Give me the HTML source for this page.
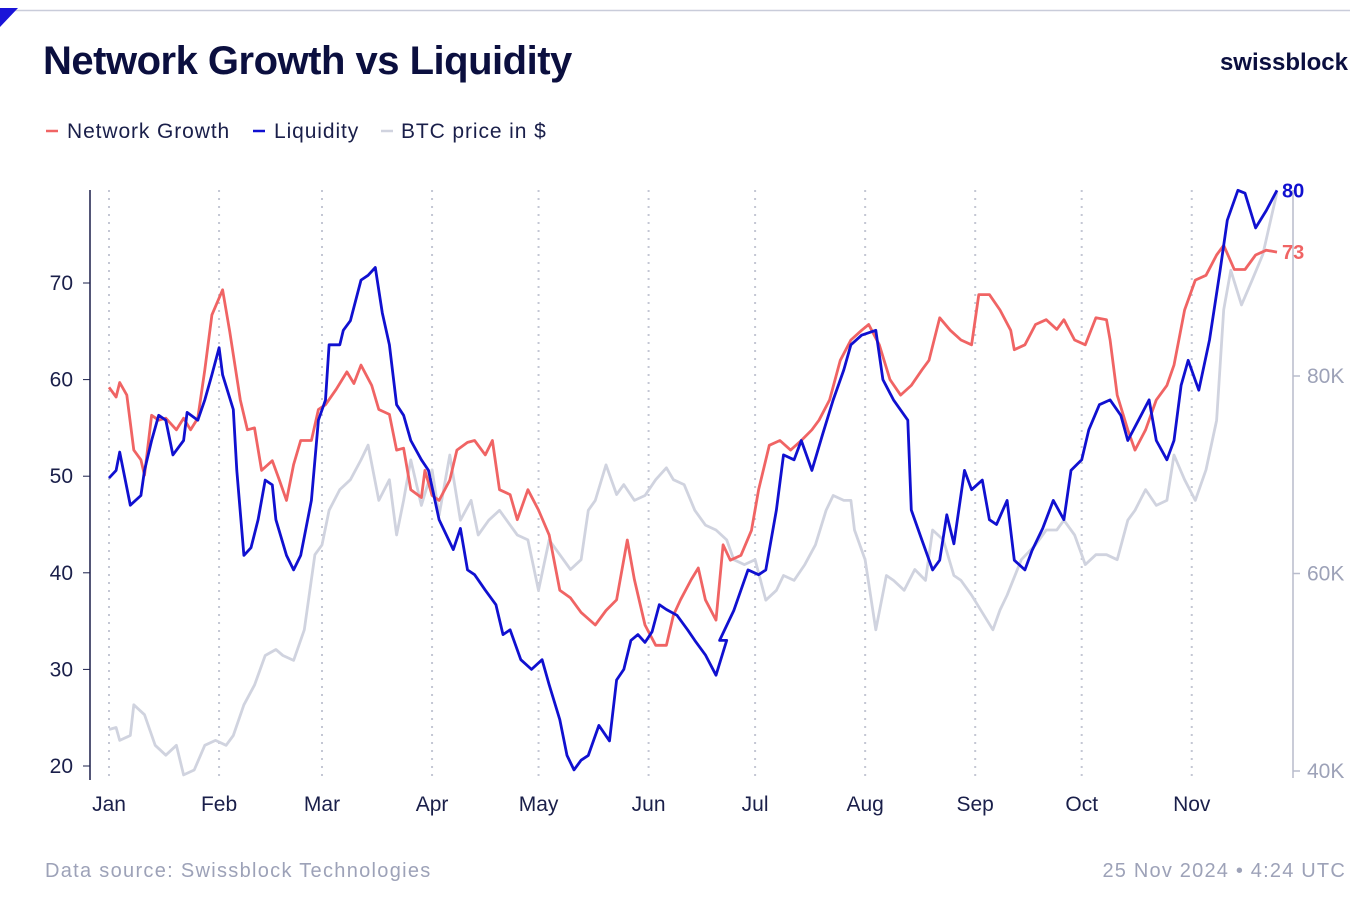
<!DOCTYPE html>
<html><head><meta charset="utf-8"><style>
body{margin:0;background:#fff;font-family:"Liberation Sans",sans-serif;}
#wrap{position:relative;width:1350px;height:900px;overflow:hidden;}
</style></head><body>
<div id="wrap">
<svg id="svg" width="1350" height="900">
 <line x1="0" y1="10.5" x2="1350" y2="10.5" stroke="#c9ccda" stroke-width="1.5"/>
 <polygon points="0,8 18,8 0,27" fill="#1a14d8"/>
 <text x="43" y="74" font-size="40" font-weight="bold" fill="#0b0f3f" letter-spacing="-0.5">Network Growth vs Liquidity</text>
 <text x="1348" y="70" text-anchor="end" font-size="24" font-weight="bold" fill="#0b0f3f">swissblock</text>
 <g font-size="21" fill="#1a1f4a" letter-spacing="0.9">
  <line x1="46" y1="131" x2="58" y2="131" stroke="#f06464" stroke-width="2.5"/>
  <text x="67" y="138">Network Growth</text>
  <line x1="253" y1="131" x2="265" y2="131" stroke="#1010d0" stroke-width="2.5"/>
  <text x="274" y="138">Liquidity</text>
  <line x1="381" y1="131" x2="393" y2="131" stroke="#d0d3df" stroke-width="2.5"/>
  <text x="401" y="138">BTC price in $</text>
 </g>
 <g id="grid"></g>
 <g id="axes"></g>
 <g id="series"></g>
 <text x="45" y="877" font-size="20" letter-spacing="1.3" fill="#9da2b8">Data source: Swissblock Technologies</text>
 <text x="1346" y="877" text-anchor="end" font-size="20" letter-spacing="1.2" fill="#9da2b8">25 Nov 2024 • 4:24 UTC</text>
</svg>
</div>
<script>
const months=["Jan","Feb","Mar","Apr","May","Jun","Jul","Aug","Sep","Oct","Nov"];
const monthDays=[0,31,60,91,121,152,182,213,244,274,305];
const leftTicks=[20,30,40,50,60,70];
const rightTicks=[40,60,80];
const rightTickLabels=["40K","60K","80K"];
const netDays=[0,2,3,5,7,9,10,12,14,16,19,21,23,25,27,29,32,34,37,39,41,43,46,48,50,52,54,57,59,61,64,67,69,71,74,76,79,81,83,85,88,89,91,93,96,98,101,103,106,108,110,113,115,118,121,124,127,130,133,137,140,143,146,148,151,154,157,159,161,164,166,168,171,173,175,178,181,183,186,189,192,195,198,200,203,206,209,212,214,217,220,223,226,229,231,234,237,240,243,245,248,251,254,255,258,261,264,267,269,272,275,278,281,282,284,287,289,292,295,298,300,303,306,309,312,314,317,320,323,326,329];
const netVals=[59.2,58.2,59.7,58.4,52.7,51.7,50.1,56.3,55.8,56,54.8,56,54.8,56,61,66.7,69.3,65,57.9,54.8,55,50.6,51.6,49.6,47.5,51.2,53.7,53.7,56.9,57.4,59,60.8,59.6,61.5,59.4,56.9,56.4,52.7,52.9,48.6,47.8,50.6,48,47.5,49.6,52.7,53.5,53.7,52.2,53.7,48.6,48.1,45.5,48.6,46.5,43.9,38.2,37.4,35.9,34.6,36.1,37.2,43.4,39.3,34.6,32.5,32.5,35.6,37.2,39.3,40.5,37.2,35.1,42.9,41.3,41.8,44.4,48.6,53.2,53.7,52.7,53.7,54.8,55.8,57.9,62,64.1,65.1,65.7,63.6,60,58.4,59.4,61,62,66.4,65.1,64.1,63.6,68.8,68.8,67.2,65.1,63.1,63.6,65.7,66.2,65.2,66.2,64.1,63.6,66.4,66.2,64.1,58.4,54.8,52.7,54.8,57.9,59.4,61.5,67.2,70.3,70.8,72.9,73.9,71.4,71.4,72.9,73.4,73.2];
const liqDays=[0,2,3,6,9,10,12,14,16,18,21,22,25,27,29,31,32,35,36,38,40,42,44,46,47,50,52,54,57,59,61,62,65,66,68,71,73,75,77,79,81,83,85,88,90,93,97,99,101,103,106,109,111,113,116,119,122,124,127,129,131,133,135,138,141,143,145,147,149,151,153,155,157,160,163,165,168,171,174,172,176,180,183,185,188,190,193,195,198,201,204,207,209,212,216,218,221,225,226,229,232,234,236,238,241,243,246,248,250,253,255,258,260,263,266,269,271,274,276,279,282,285,287,290,293,295,298,300,302,304,307,310,313,315,318,320,323,326,329];
const liqVals=[49.8,50.6,52.5,47,48,50.6,53.7,56.3,55.8,52.2,53.7,56.6,55.8,57.9,60.5,63.3,60.5,56.9,50.6,41.8,42.6,45.5,49.6,49.1,45.5,41.8,40.3,41.8,47.5,55.8,57.9,63.6,63.6,65.1,66.1,70.3,70.8,71.6,66.9,63.6,57.4,56.3,53.7,51.7,50.6,45.5,42.4,44.6,40.3,39.8,38.2,36.7,33.6,34.1,31,30,31,28.4,24.8,21.1,19.6,20.6,21.1,24.2,22.6,28.9,30,33,33.6,32.8,33.9,36.7,36.2,35.6,34.1,33,31.5,29.4,33,33,36.1,40.3,39.8,40.3,46.5,52.2,51.7,53.7,50.6,54.3,57.9,61,63.6,64.6,65.1,60,57.9,55.8,46.5,43.4,40.3,41.3,46,43,50.6,48.6,49.6,45.5,45,47.5,41.3,40.3,42.3,44.6,47.5,45.5,50.6,51.7,54.8,57.4,57.9,56.3,53.7,55.8,57.9,53.7,51.7,53.7,59.4,62,58.9,64.1,71.3,76.5,79.6,79.3,75.7,77.5,79.6];
const btcDays=[0,2,3,6,7,10,13,16,19,21,24,27,30,33,35,38,41,44,47,49,52,55,58,60,62,65,68,71,73,76,79,81,83,85,88,91,93,96,99,102,104,107,110,113,115,118,121,124,127,130,133,135,137,140,143,145,148,151,154,157,159,162,165,168,171,174,176,179,182,185,188,190,193,196,199,202,204,207,209,210,213,216,219,221,224,227,230,232,235,238,240,243,249,251,253,257,261,264,267,269,272,275,278,281,284,287,289,292,295,298,300,303,306,309,312,314,316,319,322,325,329];
const btcVals=[44.2,44.4,43.1,43.6,46.7,45.7,42.6,41.6,42.6,39.6,40.1,42.6,43.1,42.6,43.6,46.7,48.7,51.7,52.3,51.7,51.2,54.3,61.9,62.9,66.4,68.5,69.5,71.5,73,67.4,69.5,63.9,67.4,71.5,66.9,70.5,65.9,72,65.4,67.4,63.9,65.4,66.4,64.9,63.9,63.4,58.3,63.4,61.9,60.4,61.4,66.4,67.4,71,68,69,67.4,67.9,69.5,70.7,69.5,69,66.4,64.9,64.4,63.4,61.4,60.9,61.4,57.3,58.3,59.8,59.3,60.9,62.9,66.4,67.9,67.4,67.4,64.4,61.4,54.3,59.8,59.3,58.3,60.4,59.3,64.4,63.4,59.8,59.3,57.8,54.3,56.3,57.8,61.4,62.9,64.4,64.4,65.4,63.9,60.9,61.9,61.9,61.4,65.4,66.4,68.5,66.9,67.4,72,69.5,67.4,70.5,75.5,86.7,90.7,87.2,89.7,92.3,98.6];

const NS='http://www.w3.org/2000/svg';
const X=d=>109+d*3.55;
const YL=v=>766-(v-20)*9.66;
const YR=v=>771-(v-40)*9.875;
const grid=document.getElementById('grid'),axes=document.getElementById('axes'),ser=document.getElementById('series');
function mk(tag,attrs,parent){const e=document.createElementNS(NS,tag);for(const k in attrs)e.setAttribute(k,attrs[k]);parent.appendChild(e);return e;}
monthDays.forEach((d,i)=>{
 const l=mk('line',{x1:X(d),x2:X(d),y1:190,y2:778,stroke:'#c4c7d4','stroke-width':2,'stroke-dasharray':'2 6'},grid);
 
 
 const t=mk('text',{x:X(d),y:811,'text-anchor':'middle','font-size':21,fill:'#1a1f4a'},axes);
 t.textContent=months[i];
 
 
});
const la=mk('line',{x1:90,x2:90,y1:190,y2:780,stroke:'#1a1f4a','stroke-width':1.5},axes);


leftTicks.forEach(v=>{
 const t=mk('text',{x:73,y:YL(v)+7,'text-anchor':'end','font-size':21,fill:'#1a1f4a'},axes);
 t.textContent=v;
 
 
 const tk=mk('line',{x1:83,x2:90,y1:YL(v),y2:YL(v),stroke:'#1a1f4a','stroke-width':1},axes);
 
 
});
const ra=mk('line',{x1:1293,x2:1293,y1:190,y2:778,stroke:'#b8bccc','stroke-width':1.5},axes);


rightTicks.forEach((v,i)=>{
 const tk=mk('line',{x1:1293,x2:1300,y1:YR(v),y2:YR(v),stroke:'#b8bccc','stroke-width':1.5},axes);
 
 
 const t=mk('text',{x:1307,y:YR(v)+7,'font-size':21,fill:'#9da2b8'},axes);
 t.textContent=rightTickLabels[i];
 
 
});
function line(days,vals,Y,color,name){
 const pts=days.map((d,i)=>X(d).toFixed(1)+','+Y(vals[i]).toFixed(1)).join(' ');
 const p=mk('polyline',{points:pts,fill:'none',stroke:color,'stroke-width':2.8,'stroke-linejoin':'round'},ser);
 
 
}
line(btcDays,btcVals,YR,'#d0d3df','btc-price-line');
line(netDays,netVals,YL,'#f06464','network-growth-line');
line(liqDays,liqVals,YL,'#1010d0','liquidity-line');
const lb=mk('text',{x:1282,y:YL(liqVals[liqVals.length-1])+7,'font-size':20,'font-weight':'bold',fill:'#1010d0'},ser);
lb.textContent=Math.round(liqVals[liqVals.length-1]);


const nb=mk('text',{x:1282,y:YL(netVals[netVals.length-1])+7,'font-size':20,'font-weight':'bold',fill:'#f06464'},ser);
nb.textContent=Math.round(netVals[netVals.length-1]);


</script>
</body></html>
